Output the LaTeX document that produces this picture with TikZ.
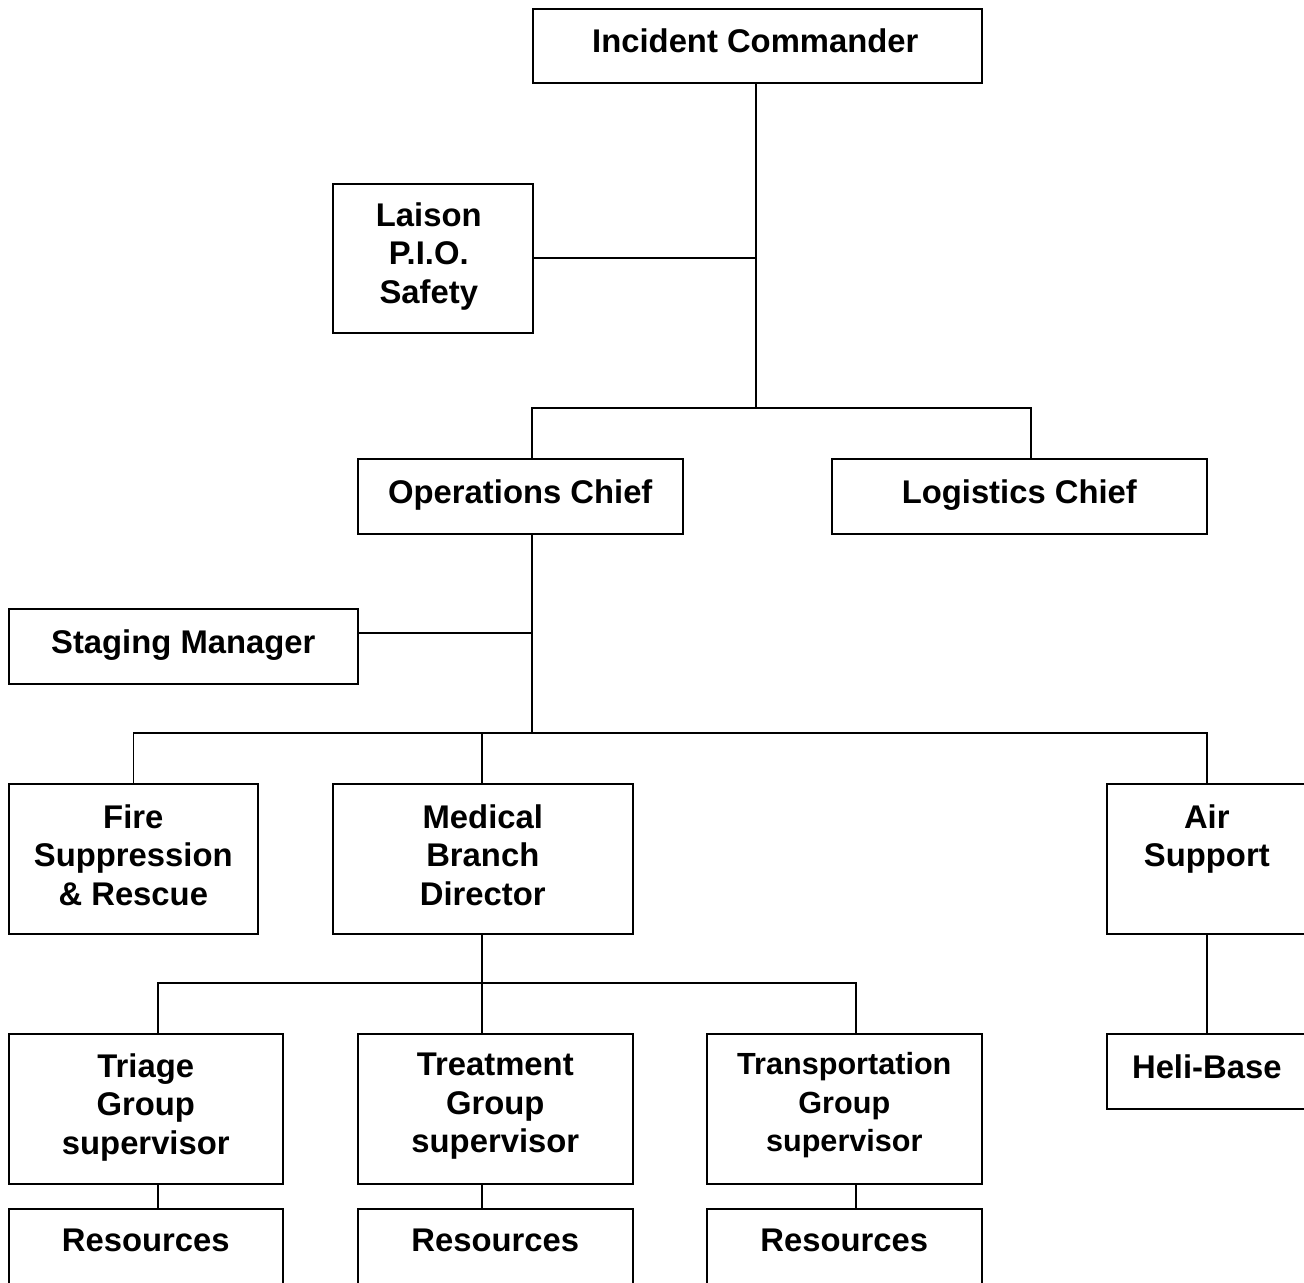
\documentclass[tikz,border=0pt]{standalone}
\usepackage{fontspec}
\setmainfont{Liberation Sans}
\usetikzlibrary{calc}
\begin{document}
\begin{tikzpicture}[x=0.5pt,y=-0.5pt,
  box/.style={draw=black,line width=0.8pt,rectangle,inner sep=0pt,anchor=north west},
  lbl/.style={anchor=north,inner sep=0pt,align=center,font=\fontsize{16.4}{19.25}\selectfont\bfseries},
  slbl/.style={anchor=north,inner sep=0pt,align=center,font=\fontsize{15.3}{19.25}\selectfont\bfseries},
  conn/.style={draw=black,line width=0.8pt}]
\clip (0,0) rectangle (1304,1282);
\fill[white] (0,0) rectangle (1304,1282);
% boxes
\node[box,minimum width=224.5pt,minimum height=37pt] (ic) at (532,8) {};
\node[box,minimum width=100pt,minimum height=74.5pt] (lps) at (332,183) {};
\node[box,minimum width=162.5pt,minimum height=37.5pt] (ops) at (357,458) {};
\node[box,minimum width=187.5pt,minimum height=37.5pt] (log) at (831,458) {};
\node[box,minimum width=174.5pt,minimum height=37.5pt] (stg) at (8,608) {};
\node[box,minimum width=124.5pt,minimum height=75pt] (fire) at (8,783) {};
\node[box,minimum width=150pt,minimum height=75pt] (med) at (332,783) {};
\node[box,minimum width=100pt,minimum height=75pt] (air) at (1106,783) {};
\node[box,minimum width=137pt,minimum height=75pt] (tri) at (8,1033) {};
\node[box,minimum width=137.5pt,minimum height=75pt] (trt) at (357,1033) {};
\node[box,minimum width=137.5pt,minimum height=75pt] (trn) at (706,1033) {};
\node[box,minimum width=100pt,minimum height=37.5pt] (heli) at (1106,1033) {};
\node[box,minimum width=137pt,minimum height=38pt] (res1) at (8,1208) {};
\node[box,minimum width=137.5pt,minimum height=38pt] (res2) at (357,1208) {};
\node[box,minimum width=137.5pt,minimum height=38pt] (res3) at (706,1208) {};
% labels
\node[lbl] (icL) at ($(ic.north)+(-2,20)$) {Incident Commander};
\node[lbl] (lpsL) at ($(lps.north)+(-4,19)$) {Laison\\P.I.O.\\Safety};
\node[lbl] (opsL) at ($(ops.north)+(0,21)$) {Operations Chief};
\node[lbl] (logL) at ($(log.north)+(0,21)$) {Logistics Chief};
\node[lbl] (stgL) at ($(stg.north)+(0,21)$) {Staging Manager};
\node[lbl] (fireL) at ($(fire.north)+(0,21)$) {Fire\\Suppression\\\& Rescue};
\node[lbl] (medL) at ($(med.north)+(0,21)$) {Medical\\Branch\\Director};
\node[lbl] (airL) at ($(air.north)+(0,21)$) {Air\\Support};
\node[lbl] (triL) at ($(tri.north)+(0,20)$) {Triage\\Group\\supervisor};
\node[lbl] (trtL) at ($(trt.north)+(0,20)$) {Treatment\\Group\\supervisor};
\node[slbl] (trnL) at ($(trn.north)+(0,19)$) {Transportation\\Group\\supervisor};
\node[lbl] (heliL) at ($(heli.north)+(0,21)$) {Heli-Base};
\node[lbl] (res1L) at ($(res1.north)+(0,21)$) {Resources};
\node[lbl] (res2L) at ($(res2.north)+(0,21)$) {Resources};
\node[lbl] (res3L) at ($(res3.north)+(0,21)$) {Resources};
% junction coordinates
\coordinate (busA) at (756,408);
\coordinate (lpsJ) at (756,258);
\coordinate (opsT) at (532,408);
\coordinate (logT) at (1031,408);
\coordinate (busB) at (532,733);
\coordinate (stgJ) at (532,633);
\coordinate (busC) at (482,983);
\coordinate (triX) at (158,983);
\coordinate (trnX) at (856,983);
% connectors
\draw[conn] (ic.south -| busA) -- (busA);
\draw[conn] (lps.east |- lpsJ) -- (lpsJ);
\draw[conn] (ops.north -| opsT) -- (opsT) -- (logT) -- (log.north -| logT);
\draw[conn] (ops.south -| busB) -- (busB);
\draw[conn] (stg.east |- stgJ) -- (stgJ);
\draw[conn] (fire.north) -- (fire.north |- busB) -- (air.north |- busB) -- (air.north);
\draw[conn] (med.north -| busC) -- (busC |- busB);
\draw[conn] (med.south -| busC) -- (busC);
\draw[conn] (tri.north -| triX) -- (triX) -- (trnX) -- (trn.north -| trnX);
\draw[conn] (trt.north -| busC) -- (busC);
\draw[conn] (air.south) -- (heli.north);
\draw[conn] (tri.south -| triX) -- (res1.north -| triX);
\draw[conn] (trt.south -| busC) -- (res2.north -| busC);
\draw[conn] (trn.south -| trnX) -- (res3.north -| trnX);
\end{tikzpicture}
\end{document}
